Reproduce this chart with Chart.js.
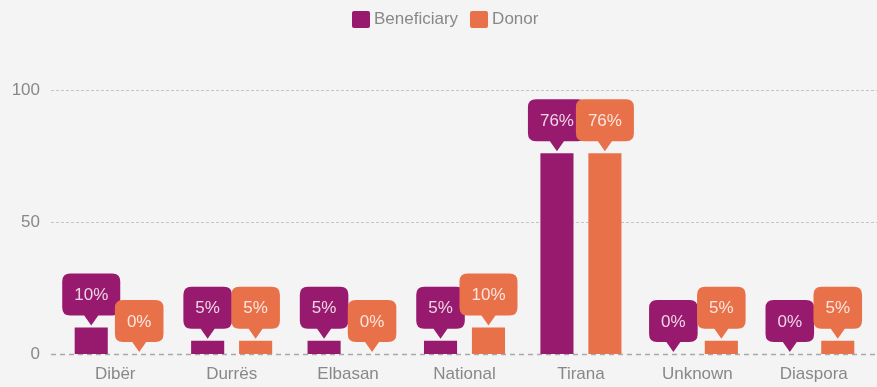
<!DOCTYPE html>
<html>
<head>
<meta charset="utf-8">
<script src="https://cdn.jsdelivr.net/npm/chart.js@4.4.1/dist/chart.umd.min.js"></script>
<style>
  html, body { margin: 0; padding: 0; background: #f4f4f4; }
  #wrap { position: relative; width: 877px; height: 387px; }
  #legend { position: absolute; top: 9px; left: 352px; display: flex; align-items: center;
    font: 17px "Liberation Sans", Arial, sans-serif; color: #888; }
  #legend span.box { display: inline-block; width: 18px; height: 17px; border-radius: 2px; margin-right: 4px; }
  #legend span.item { display: inline-flex; align-items: center; margin-right: 12px; }
</style>
</head>
<body>
<div id="wrap">
  <div id="legend"></div>
  <canvas id="regionChart" width="877" height="387"></canvas>
</div>
<script>
const regions = ["Dibër", "Durrës", "Elbasan", "National", "Tirana", "Unknown", "Diaspora"];
const beneficiary = [10, 5, 5, 5, 76, 0, 0];
const donor = [0, 5, 0, 10, 76, 5, 5];
const yTicks = [0, 50, 100];

const PURPLE = "#981a6e";
const ORANGE = "#e9714a";
const FONT = '"Liberation Sans", Arial, sans-serif';

// dashed horizontal guides, wider than the plot area
const dashedGrid = {
  id: "dashedGrid",
  beforeDatasetsDraw(chart) {
    const ctx = chart.ctx;
    const y = chart.scales.y;
    ctx.save();
    yTicks.forEach(function (v) {
      const py = Math.round(y.getPixelForValue(v)) + 0.5;
      ctx.beginPath();
      if (v === 0) {
        ctx.setLineDash([5, 4]);
        ctx.strokeStyle = "#a9a9a9";
        ctx.lineWidth = 1.5;
      } else {
        ctx.setLineDash([3, 2]);
        ctx.strokeStyle = "#c4c4c4";
        ctx.lineWidth = 1;
      }
      ctx.moveTo(51, py);
      ctx.lineTo(chart.width, py);
      ctx.stroke();
    });
    ctx.restore();
  }
};

// speech-bubble value labels above each bar
const bubbles = {
  id: "bubbles",
  afterDatasetsDraw(chart) {
    const ctx = chart.ctx;
    ctx.save();
    ctx.font = "17px " + FONT;
    ctx.textAlign = "center";
    ctx.textBaseline = "middle";
    chart.data.datasets.forEach(function (ds, i) {
      const meta = chart.getDatasetMeta(i);
      meta.data.forEach(function (bar, j) {
        const text = ds.data[j] + "%";
        const w = ctx.measureText(text).width + 24;
        const h = 42;
        const tip = bar.y - 2;
        const bottom = tip - 10;
        const top = bottom - h;
        const left = bar.x - w / 2;
        const r = 8;
        ctx.beginPath();
        ctx.moveTo(left + r, top);
        ctx.lineTo(left + w - r, top);
        ctx.quadraticCurveTo(left + w, top, left + w, top + r);
        ctx.lineTo(left + w, bottom - r);
        ctx.quadraticCurveTo(left + w, bottom, left + w - r, bottom);
        ctx.lineTo(bar.x + 7, bottom);
        ctx.lineTo(bar.x, tip);
        ctx.lineTo(bar.x - 7, bottom);
        ctx.lineTo(left + r, bottom);
        ctx.quadraticCurveTo(left, bottom, left, bottom - r);
        ctx.lineTo(left, top + r);
        ctx.quadraticCurveTo(left, top, left + r, top);
        ctx.closePath();
        ctx.fillStyle = ds.backgroundColor;
        ctx.fill();
        ctx.fillStyle = "rgba(255,255,255,0.82)";
        ctx.fillText(text, bar.x, top + h / 2 + 1);
      });
    });
    ctx.restore();
  }
};

const chart = new Chart(document.getElementById("regionChart"), {
  type: "bar",
  data: {
    labels: regions,
    datasets: [
      { label: "Beneficiary", data: beneficiary, backgroundColor: PURPLE },
      { label: "Donor", data: donor, backgroundColor: ORANGE }
    ]
  },
  options: {
    responsive: false,
    animation: false,
    layout: { padding: { top: 90, right: 5, left: 0, bottom: 0 } },
    datasets: { bar: { categoryPercentage: 0.824, barPercentage: 0.69 } },
    plugins: { legend: { display: false }, tooltip: { enabled: false } },
    scales: {
      x: {
        grid: { display: false },
        border: { display: false },
        ticks: { color: "#888", font: { family: FONT, size: 17 }, padding: 2 },
        afterFit: function (s) { s.height = 33; }
      },
      y: {
        min: 0,
        max: 100,
        afterBuildTicks: function (s) { s.ticks = yTicks.map(function (v) { return { value: v }; }); },
        grid: { display: false },
        border: { display: false },
        ticks: { color: "#888", font: { family: FONT, size: 17 }, padding: 9 },
        afterFit: function (s) { s.width = 57; }
      }
    }
  },
  plugins: [dashedGrid, bubbles]
});

// legend
const legend = document.getElementById("legend");
chart.data.datasets.forEach(function (ds) {
  const item = document.createElement("span");
  item.className = "item";
  const box = document.createElement("span");
  box.className = "box";
  box.style.background = ds.backgroundColor;
  item.appendChild(box);
  item.appendChild(document.createTextNode(ds.label));
  legend.appendChild(item);
});
</script>
</body>
</html>
